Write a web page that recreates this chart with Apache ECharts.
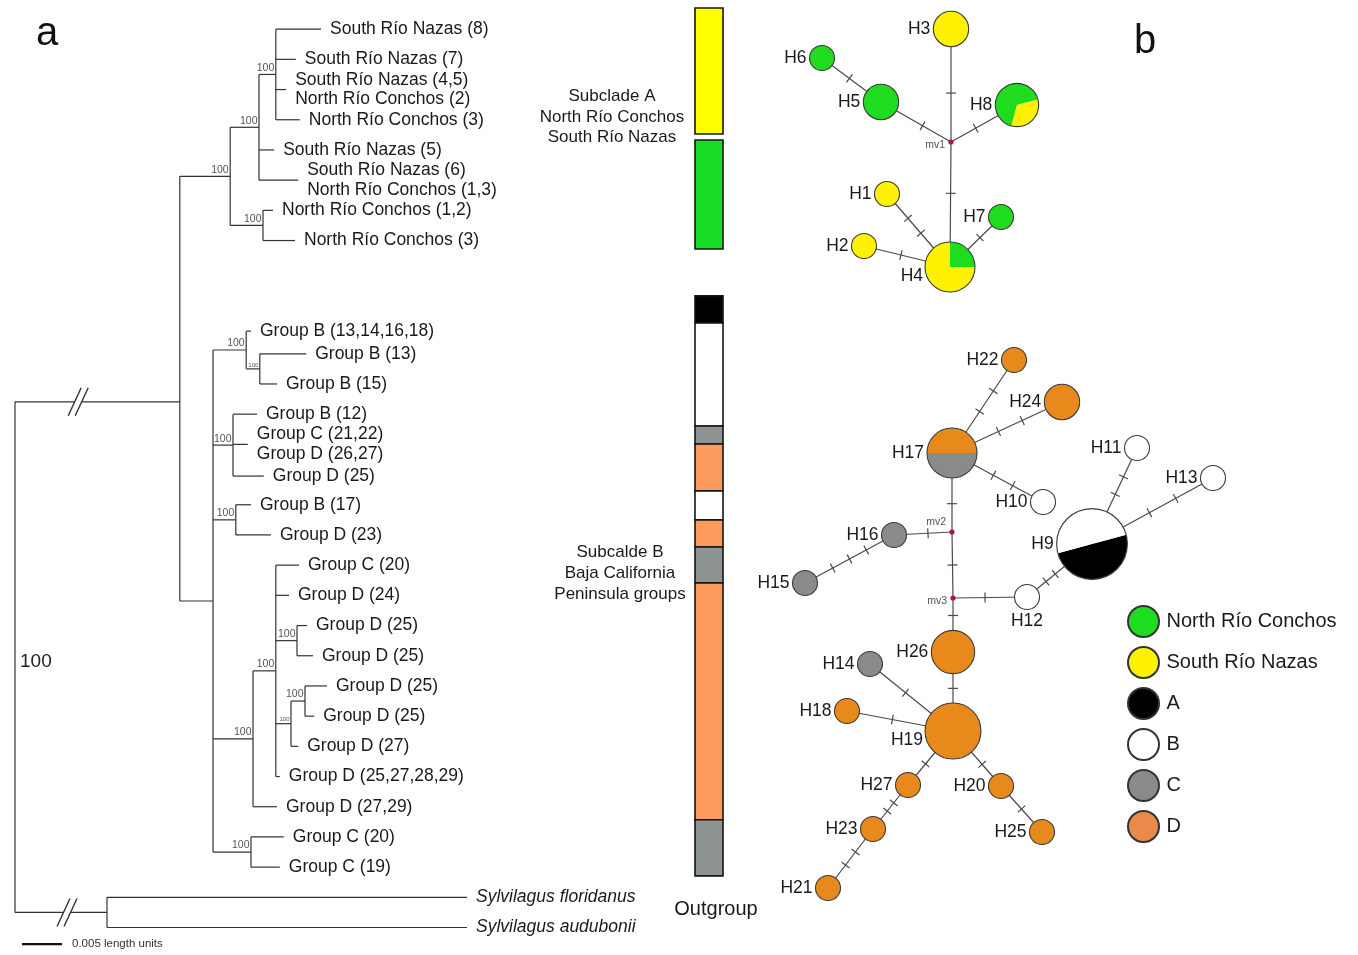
<!DOCTYPE html>
<html>
<head>
<meta charset="utf-8">
<script src="https://cdn.jsdelivr.net/npm/echarts@6.0.0/dist/echarts.min.js"></script>
<style>
html,body{margin:0;padding:0;background:#ffffff;}
#c{width:1358px;height:955px;}
</style>
</head>
<body>
<div id="c"></div>
<script>
// ================= DATA =================
// Panel a: phylogenetic tree
// [id, parent, depth (x0.001 length units), leaf row, label, bootstrap]
const treeNodes = [
  ['root', null, 0, null, '', 100],
  ['n1', 'root', 20.6, 12.34, '', null],
  ['n2', 'n1', 26.9, null, '', 100],
  ['n3', 'n2', 30.5, null, '', 100],
  ['n4', 'n3', 32.6, null, '', 100],
  ['L1', 'n4', 38.25, 0, 'South Río Nazas (8)', null],
  ['L2', 'n4', 35.1, 1, 'South Río Nazas (7)', null],
  ['L3', 'n4', 33.9, 2, 'South Río Nazas (4,5)\nNorth Río Conchos (2)', null],
  ['L4', 'n4', 35.6, 3, 'North Río Conchos (3)', null],
  ['L5', 'n3', 32.4, 4, 'South Río Nazas (5)', null],
  ['L6', 'n3', 35.4, 5, 'South Río Nazas (6)\nNorth Río Conchos (1,3)', null],
  ['n5', 'n2', 31.0, null, '', 100],
  ['L7', 'n5', 32.25, 6, 'North Río Conchos (1,2)', null],
  ['L8', 'n5', 35.0, 7, 'North Río Conchos (3)', null],
  ['n6', 'n1', 24.75, null, '', null],
  ['n7', 'n6', 28.9, null, '', 100],
  ['L9', 'n7', 29.5, 10.0, 'Group B (13,14,16,18)', null],
  ['n8', 'n7', 30.6, null, '', 100],
  ['L10', 'n8', 36.4, 10.75, 'Group B (13)', null],
  ['L11', 'n8', 32.75, 11.75, 'Group B (15)', null],
  ['n9', 'n6', 27.25, null, '', 100],
  ['L12', 'n9', 30.25, 12.75, 'Group B (12)', null],
  ['L13', 'n9', 29.1, 13.75, 'Group C (21,22)\nGroup D (26,27)', null],
  ['L14', 'n9', 31.1, 14.8, 'Group D (25)', null],
  ['n10', 'n6', 27.6, null, '', 100],
  ['L15', 'n10', 29.5, 15.75, 'Group B (17)', null],
  ['L16', 'n10', 32.0, 16.75, 'Group D (23)', null],
  ['n11', 'n6', 29.75, null, '', 100],
  ['n12', 'n11', 32.6, null, '', 100],
  ['L17', 'n12', 35.5, 17.75, 'Group C (20)', null],
  ['L18', 'n12', 34.25, 18.75, 'Group D (24)', null],
  ['n13', 'n12', 35.25, null, '', 100],
  ['L19', 'n13', 36.5, 19.75, 'Group D (25)', null],
  ['L20', 'n13', 37.25, 20.75, 'Group D (25)', null],
  ['n14', 'n12', 34.5, null, '', 100],
  ['n15', 'n14', 36.25, null, '', 100],
  ['L21', 'n15', 39.0, 21.75, 'Group D (25)', null],
  ['L22', 'n15', 37.4, 22.75, 'Group D (25)', null],
  ['L23', 'n14', 35.4, 23.75, 'Group D (27)', null],
  ['L24', 'n12', 33.1, 24.75, 'Group D (25,27,28,29)', null],
  ['L25', 'n11', 32.75, 25.75, 'Group D (27,29)', null],
  ['n16', 'n6', 29.5, null, '', 100],
  ['L26', 'n16', 33.6, 26.75, 'Group C (20)', null],
  ['L27', 'n16', 33.1, 27.75, 'Group C (19)', null],
  ['n17', 'root', 11.5, null, '', null],
  ['L28', 'n17', 56.5, 28.75, 'Sylvilagus floridanus', null],
  ['L29', 'n17', 56.5, 29.75, 'Sylvilagus audubonii', null]
];
const outgroupLeaves = ['L28', 'L29'];
const brokenBranches = [['n1', 7.9], ['n17', 6.5]];   // depth where "//" is drawn
const smallSupportNodes = ['n8', 'n14'];
const scaleBar = [[0.875, 30.3, 5]];                   // start, row, length (0.005)
const scaleBarLabel = '0.005 length units';

// Colour strip next to tree: [startRow, endRow, group]
const stripSegments = [
  [-0.70, 3.47, 'South Río Nazas'],
  [3.67, 7.28, 'North Río Conchos'],
  [8.83, 9.73, 'A'],
  [9.73, 13.14, 'B'],
  [13.14, 13.74, 'C'],
  [13.74, 15.29, 'D'],
  [15.29, 16.25, 'B'],
  [16.25, 17.15, 'D'],
  [17.15, 18.34, 'C'],
  [18.34, 26.18, 'D'],
  [26.18, 28.04, 'C']
];

// Panel b: haplotype network
const popCategories = ['North Río Conchos', 'South Río Nazas', 'A', 'B', 'C', 'D'];
// [name, x, y, counts per category]
const haplotypes = [
  ['H3', 21.1, 2.9, [0, 2, 0, 0, 0, 0]],
  ['H6', 8.2, 5.8, [1, 0, 0, 0, 0, 0]],
  ['H5', 14.1, 10.2, [2, 0, 0, 0, 0, 0]],
  ['H8', 27.7, 10.5, [2, 1, 0, 0, 0, 0]],
  ['H1', 14.7, 19.4, [0, 1, 0, 0, 0, 0]],
  ['H7', 26.1, 21.7, [1, 0, 0, 0, 0, 0]],
  ['H2', 12.4, 24.6, [0, 1, 0, 0, 0, 0]],
  ['H4', 21.0, 26.7, [1, 3, 0, 0, 0, 0]],
  ['H22', 27.4, 36.0, [0, 0, 0, 0, 0, 1]],
  ['H24', 32.2, 40.2, [0, 0, 0, 0, 0, 2]],
  ['H17', 21.2, 45.3, [0, 0, 0, 0, 2, 2]],
  ['H11', 39.7, 44.8, [0, 0, 0, 1, 0, 0]],
  ['H13', 47.3, 47.8, [0, 0, 0, 1, 0, 0]],
  ['H10', 30.3, 50.2, [0, 0, 0, 1, 0, 0]],
  ['H9', 35.2, 54.4, [0, 0, 4, 4, 0, 0]],
  ['H16', 15.4, 53.5, [0, 0, 0, 0, 1, 0]],
  ['H15', 6.5, 58.3, [0, 0, 0, 0, 1, 0]],
  ['H12', 28.7, 59.7, [0, 0, 0, 1, 0, 0]],
  ['H26', 21.3, 65.2, [0, 0, 0, 0, 0, 3]],
  ['H14', 13.0, 66.4, [0, 0, 0, 0, 1, 0]],
  ['H18', 10.7, 71.1, [0, 0, 0, 0, 0, 1]],
  ['H19', 21.3, 73.1, [0, 0, 0, 0, 0, 5]],
  ['H27', 16.8, 78.5, [0, 0, 0, 0, 0, 1]],
  ['H20', 26.1, 78.6, [0, 0, 0, 0, 0, 1]],
  ['H23', 13.3, 82.9, [0, 0, 0, 0, 0, 1]],
  ['H25', 30.2, 83.2, [0, 0, 0, 0, 0, 1]],
  ['H21', 8.8, 88.8, [0, 0, 0, 0, 0, 1]]
];
const medianVectors = [['mv1', 21.1, 14.2], ['mv2', 21.2, 53.2], ['mv3', 21.3, 59.8]];
// [from, to, mutation steps]
const networkEdges = [
  ['H3', 'mv1', 1], ['H6', 'H5', 1], ['H5', 'mv1', 1], ['H8', 'mv1', 1], ['mv1', 'H4', 1],
  ['H1', 'H4', 2], ['H2', 'H4', 1], ['H7', 'H4', 1],
  ['H22', 'H17', 2], ['H24', 'H17', 2], ['H17', 'H10', 2], ['H17', 'mv2', 1],
  ['mv2', 'H16', 1], ['H16', 'H15', 3], ['mv2', 'mv3', 1], ['mv3', 'H12', 1],
  ['H12', 'H9', 2], ['H9', 'H11', 2], ['H9', 'H13', 2], ['mv3', 'H26', 1],
  ['H26', 'H19', 1], ['H14', 'H19', 1], ['H18', 'H19', 1], ['H19', 'H27', 1],
  ['H19', 'H20', 1], ['H27', 'H23', 2], ['H23', 'H21', 2], ['H20', 'H25', 1]
];

// ================= STYLE =================
const FONT = '"Liberation Sans", Arial, Helvetica, sans-serif';
const netColors = ['#1fdc1f', '#fff200', '#000000', '#ffffff', '#8a8a8a', '#e8891c'];
const legendColors = ['#1fdc1f', '#fff200', '#000000', '#ffffff', '#8a8a8a', '#e98a4a'];
const stripColorMap = {
  'North Río Conchos': '#16dc26', 'South Río Nazas': '#ffff00',
  'A': '#000000', 'B': '#ffffff', 'C': '#8e9393', 'D': '#fd9a5c'
};
const pieStartAngle = { H8: 255, H4: 90, H17: 0, H9: 15 };
const labelPlacement = { H4: 'bl', H19: 'bl', H12: 'b', mv2: 'tl' };
const R_BASE = 12.5;
const LINE = '#333333';

// ================= BUILD TREE =================
const nodes = {};
treeNodes.forEach(([id, parent, depth, row, label, support]) => {
  nodes[id] = { id, parent, depth, row, label, support, children: [] };
});
treeNodes.forEach(([id, parent]) => { if (parent) nodes[parent].children.push(id); });
function layout(id) {
  const n = nodes[id];
  if (n.children.length) {
    const ys = n.children.map(layout);
    n.minC = Math.min(...ys); n.maxC = Math.max(...ys);
    n.y = n.row != null ? n.row : (n.minC + n.maxC) / 2;
  } else {
    n.y = n.row;
  }
  return n.y;
}
layout('root');

const treeSegs = [];
const leafData = [], leafText = [], leafItalic = [];
const supportData = [];
Object.values(nodes).forEach(n => {
  if (n.parent) treeSegs.push([nodes[n.parent].depth, n.y, n.depth, n.y]);
  if (n.children.length) {
    treeSegs.push([n.depth, n.minC, n.depth, n.maxC]);
    if (n.support != null) {
      if (n.id === 'root') supportData.push([n.depth, (n.minC + n.maxC) / 2, 2, n.support]);
      else supportData.push([n.depth, n.y, smallSupportNodes.includes(n.id) ? 1 : 0, n.support]);
    }
  } else {
    leafData.push([n.depth, n.y]);
    leafText.push(n.label);
    leafItalic.push(outgroupLeaves.includes(n.id));
  }
});
const breakData = brokenBranches.map(([id, d]) => [d, nodes[id].y]);

// ================= BUILD NETWORK =================
const netIndex = {};
haplotypes.forEach(([name, x, y, counts]) => {
  netIndex[name] = { x, y, n: counts.reduce((a, b) => a + b, 0) };
});
medianVectors.forEach(([name, x, y]) => { netIndex[name] = { x, y, n: 0 }; });
const edgeData = networkEdges.map(([a, b, k]) => {
  const A = netIndex[a], B = netIndex[b];
  return [A.x, A.y, B.x, B.y, k, A.n, B.n];
});
const nodeNames = haplotypes.map(h => h[0]).concat(medianVectors.map(m => m[0]));
const nodeData = haplotypes.map(h => [h[1], h[2]]).concat(medianVectors.map(m => [m[1], m[2]]));
const rOf = n => n > 0 ? R_BASE * Math.sqrt(n) : 2.6;

// ================= CHART =================
const chart = echarts.init(document.getElementById('c'));

const series = [];
// tree branches
series.push({
  type: 'custom', xAxisIndex: 0, yAxisIndex: 0, z: 2, silent: true,
  data: treeSegs,
  renderItem(params, api) {
    const p1 = api.coord([api.value(0), api.value(1)]);
    const p2 = api.coord([api.value(2), api.value(3)]);
    return { type: 'line', shape: { x1: p1[0], y1: p1[1], x2: p2[0], y2: p2[1] },
      style: { stroke: LINE, lineWidth: 1.2 } };
  }
});
// break marks "//"
series.push({
  type: 'custom', xAxisIndex: 0, yAxisIndex: 0, z: 3, silent: true,
  data: breakData,
  renderItem(params, api) {
    const p = api.coord([api.value(0), api.value(1)]);
    const cx = p[0], cy = p[1];
    return { type: 'group', children: [
      { type: 'rect', shape: { x: cx - 3.5, y: cy - 3, width: 7, height: 6 }, style: { fill: '#ffffff' } },
      { type: 'line', shape: { x1: cx - 10, y1: cy + 14, x2: cx + 3, y2: cy - 14 }, style: { stroke: LINE, lineWidth: 1.4 } },
      { type: 'line', shape: { x1: cx - 3, y1: cy + 14, x2: cx + 10, y2: cy - 14 }, style: { stroke: LINE, lineWidth: 1.4 } }
    ] };
  }
});
// leaf labels
series.push({
  type: 'custom', xAxisIndex: 0, yAxisIndex: 0, z: 3, silent: true,
  data: leafData,
  renderItem(params, api) {
    const p = api.coord([api.value(0), api.value(1)]);
    const i = params.dataIndex;
    return { type: 'text', x: p[0] + 9, y: p[1],
      style: { text: leafText[i], fontSize: 17.5, fontFamily: FONT, fontStyle: leafItalic[i] ? 'italic' : 'normal',
        fill: '#1a1a1a', align: 'left', verticalAlign: 'middle', lineHeight: 19.5 } };
  }
});
// bootstrap support labels
series.push({
  type: 'custom', xAxisIndex: 0, yAxisIndex: 0, z: 3, silent: true,
  data: supportData,
  renderItem(params, api) {
    const p = api.coord([api.value(0), api.value(1)]);
    const kind = api.value(2);
    const txt = String(api.value(3));
    if (kind === 2) {
      return { type: 'text', x: p[0] + 5, y: p[1] + 5,
        style: { text: txt, fontSize: 19, fontFamily: FONT, fill: '#222', align: 'left', verticalAlign: 'middle' } };
    }
    return { type: 'text', x: p[0] - 1.5, y: p[1] - 1,
      style: { text: txt, fontSize: kind === 1 ? 6 : 10.5, fontFamily: FONT, fill: '#555', align: 'right', verticalAlign: 'bottom' } };
  }
});
// scale bar
series.push({
  type: 'custom', xAxisIndex: 0, yAxisIndex: 0, z: 3, silent: true,
  data: scaleBar,
  renderItem(params, api) {
    const p1 = api.coord([api.value(0), api.value(1)]);
    const p2 = api.coord([api.value(0) + api.value(2), api.value(1)]);
    return { type: 'group', children: [
      { type: 'line', shape: { x1: p1[0], y1: p1[1], x2: p2[0], y2: p2[1] }, style: { stroke: '#111', lineWidth: 2.2 } },
      { type: 'text', x: p2[0] + 10, y: p1[1], style: { text: scaleBarLabel, fontSize: 11.5, fontFamily: FONT, fill: '#333', align: 'left', verticalAlign: 'middle' } }
    ] };
  }
});
// colour strip
series.push({
  type: 'custom', xAxisIndex: 1, yAxisIndex: 1, z: 2, silent: true,
  data: stripSegments.map(s => [s[0], s[1]]),
  renderItem(params, api) {
    const p1 = api.coord([0, api.value(0)]);
    const p2 = api.coord([1, api.value(1)]);
    const col = stripColorMap[stripSegments[params.dataIndex][2]];
    return { type: 'rect', shape: { x: p1[0], y: p1[1], width: p2[0] - p1[0], height: p2[1] - p1[1] },
      style: { fill: col, stroke: '#151515', lineWidth: 1.6 } };
  }
});
// network edges with mutation ticks
series.push({
  type: 'custom', xAxisIndex: 2, yAxisIndex: 2, z: 2, silent: true,
  data: edgeData,
  renderItem(params, api) {
    const a = api.coord([api.value(0), api.value(1)]);
    const b = api.coord([api.value(2), api.value(3)]);
    const k = api.value(4);
    const ra = rOf(api.value(5)), rb = rOf(api.value(6));
    const dx = b[0] - a[0], dy = b[1] - a[1];
    const L = Math.hypot(dx, dy);
    const ux = dx / L, uy = dy / L, px = -uy, py = ux;
    const children = [{ type: 'line', shape: { x1: a[0], y1: a[1], x2: b[0], y2: b[1] }, style: { stroke: '#4a4a4a', lineWidth: 1.2 } }];
    const s0 = ra, s1 = L - rb;
    for (let i = 1; i <= k; i++) {
      const t = s0 + (s1 - s0) * i / (k + 1);
      const cx = a[0] + ux * t, cy = a[1] + uy * t;
      children.push({ type: 'line', shape: { x1: cx - px * 5, y1: cy - py * 5, x2: cx + px * 5, y2: cy + py * 5 },
        style: { stroke: '#4a4a4a', lineWidth: 1.2 } });
    }
    return { type: 'group', children };
  }
});
// network nodes
series.push({
  type: 'custom', xAxisIndex: 2, yAxisIndex: 2, z: 3, silent: true,
  data: nodeData,
  renderItem(params, api) {
    const p = api.coord([api.value(0), api.value(1)]);
    const i = params.dataIndex;
    const name = nodeNames[i];
    const place = labelPlacement[name] || 'l';
    const children = [];
    if (i >= haplotypes.length) {
      children.push({ type: 'circle', shape: { cx: p[0], cy: p[1], r: 2.6 }, style: { fill: '#b3123a' } });
      let tx = p[0] - 6, ty = p[1] + 3;
      if (place === 'tl') { tx = p[0] - 6; ty = p[1] - 10; }
      children.push({ type: 'text', x: tx, y: ty, style: { text: name, fontSize: 10.5, fontFamily: FONT, fill: '#555', align: 'right', verticalAlign: 'middle' } });
      return { type: 'group', children };
    }
    const counts = haplotypes[i][3];
    const total = counts.reduce((s, v) => s + v, 0);
    const r = rOf(total);
    const nonzero = counts.filter(v => v > 0).length;
    if (nonzero === 1) {
      const ci = counts.findIndex(v => v > 0);
      children.push({ type: 'circle', shape: { cx: p[0], cy: p[1], r }, style: { fill: netColors[ci], stroke: '#3a3a3a', lineWidth: 1.1 } });
    } else {
      let ang = (name in pieStartAngle) ? pieStartAngle[name] : 90;
      counts.forEach((v, ci) => {
        if (!v) return;
        const span = 360 * v / total;
        const s = -ang * Math.PI / 180, e = -(ang - span) * Math.PI / 180;
        children.push({ type: 'sector', shape: { cx: p[0], cy: p[1], r, r0: 0, startAngle: s, endAngle: e, clockwise: true },
          style: { fill: netColors[ci] } });
        ang -= span;
      });
      children.push({ type: 'circle', shape: { cx: p[0], cy: p[1], r }, style: { fill: 'none', stroke: '#3a3a3a', lineWidth: 1.1 } });
    }
    let tx = p[0] - r - 3, ty = p[1], align = 'right', va = 'middle';
    if (place === 'bl') { ty = p[1] + 9; tx = p[0] - r - 2; }
    if (place === 'b') { tx = p[0]; ty = p[1] + r + 3; align = 'center'; va = 'top'; }
    children.push({ type: 'text', x: tx, y: ty, style: { text: name, fontSize: 17.5, fontFamily: FONT, fill: '#1a1a1a', align, verticalAlign: va } });
    return { type: 'group', children };
  }
});
// legend carriers
popCategories.forEach((cat, i) => {
  series.push({ type: 'scatter', name: cat, xAxisIndex: 2, yAxisIndex: 2, data: [],
    itemStyle: { color: legendColors[i], borderColor: '#333', borderWidth: 1, opacity: 1 } });
});

const hiddenAxis = { show: false, splitLine: { show: false } };
const option = {
  backgroundColor: '#ffffff',
  animation: false,
  grid: [
    { left: 15, top: 5, width: 480, height: 950 },
    { left: 695, top: 5, width: 28, height: 950 },
    { left: 740, top: 0, width: 618, height: 955 }
  ],
  xAxis: [
    Object.assign({ type: 'value', gridIndex: 0, min: 0, max: 60 }, hiddenAxis),
    Object.assign({ type: 'value', gridIndex: 1, min: 0, max: 1 }, hiddenAxis),
    Object.assign({ type: 'value', gridIndex: 2, min: 0, max: 61.8 }, hiddenAxis)
  ],
  yAxis: [
    Object.assign({ type: 'value', gridIndex: 0, min: -0.8, max: 30.66, inverse: true }, hiddenAxis),
    Object.assign({ type: 'value', gridIndex: 1, min: -0.8, max: 30.66, inverse: true }, hiddenAxis),
    Object.assign({ type: 'value', gridIndex: 2, min: 0, max: 95.5, inverse: true }, hiddenAxis)
  ],
  legend: {
    orient: 'vertical', left: 1127, top: 605, padding: 0, itemWidth: 36, itemHeight: 31, itemGap: 8,
    icon: 'circle', selectedMode: false, data: popCategories,
    itemStyle: { opacity: 1 },
    textStyle: { fontSize: 20, color: '#1a1a1a', fontFamily: FONT }
  },
  graphic: [
    { type: 'text', x: 47, y: 34, style: { text: 'a', fontSize: 40, fontFamily: FONT, fill: '#111', align: 'center', verticalAlign: 'middle' } },
    { type: 'text', x: 1145, y: 42, style: { text: 'b', fontSize: 40, fontFamily: FONT, fill: '#111', align: 'center', verticalAlign: 'middle' } },
    { type: 'text', x: 612, y: 117, style: { text: 'Subclade A\nNorth Río Conchos\nSouth Río Nazas', fontSize: 17, lineHeight: 20.5, fontFamily: FONT, fill: '#1a1a1a', align: 'center', verticalAlign: 'middle' } },
    { type: 'text', x: 620, y: 573, style: { text: 'Subcalde B\nBaja California\nPeninsula groups', fontSize: 17, lineHeight: 21, fontFamily: FONT, fill: '#1a1a1a', align: 'center', verticalAlign: 'middle' } },
    { type: 'text', x: 716, y: 909, style: { text: 'Outgroup', fontSize: 20, fontFamily: FONT, fill: '#1a1a1a', align: 'center', verticalAlign: 'middle' } }
  ],
  series
};
chart.setOption(option);
</script>
</body>
</html>
